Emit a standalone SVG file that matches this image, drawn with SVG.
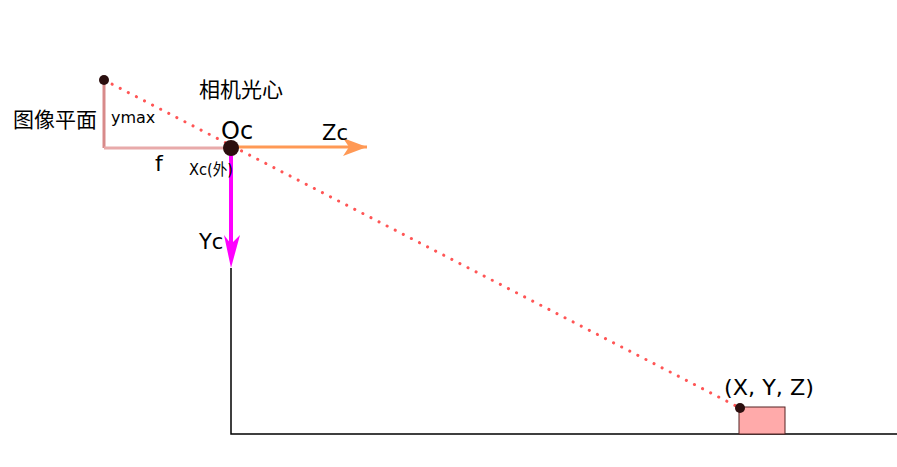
<svg xmlns="http://www.w3.org/2000/svg" width="897" height="467" viewBox="0 0 897 467">
<style>
text{font-family:"DejaVu Sans","Noto Sans CJK SC",sans-serif;fill:#000}
.dot{fill:#2b0f0f}
</style>
<defs>
<marker id="ao" markerWidth="24" markerHeight="18" refX="24" refY="9" orient="auto" markerUnits="userSpaceOnUse"><path d="M0,0 L24,9 L0,18 L6,9 Z" fill="#ff9955"/></marker>
</defs>
<rect width="897" height="467" fill="#fff"/>
<g id="connectors">
<polyline points="231,268 231,434 897,434" fill="none" stroke="#000" stroke-width="1.5"/>
<line x1="104" y1="80" x2="104" y2="148" stroke="#d88a8a" stroke-width="3"/>
<line x1="104" y1="148" x2="231" y2="148" stroke="#e8aaaa" stroke-width="3"/>
<line x1="231" y1="147" x2="367" y2="147" stroke="#ff9955" stroke-width="3" marker-end="url(#ao)"/>
<line x1="231" y1="148" x2="231" y2="250" stroke="#ff00ff" stroke-width="4"/>
<path d="M231,268 L224,235 L231,244 L240,235 Z" fill="#ff00ff"/>
<line x1="104" y1="80" x2="740" y2="408" stroke="#ff5555" stroke-width="3" stroke-dasharray="0.1 9" stroke-linecap="round"/>
</g>
<g id="image-plane-top"><circle class="dot" cx="104" cy="80" r="5"/></g>
<g id="oc"><circle class="dot" cx="231" cy="148" r="8"/><text x="221" y="139" font-size="24">Oc</text></g>
<g id="object">
<rect x="739" y="407" width="46" height="27" fill="#ffaaaa" stroke="#552222" stroke-width="1"/>
<circle class="dot" cx="740" cy="408" r="5"/>
<text x="724" y="395" font-size="21" textLength="90" lengthAdjust="spacingAndGlyphs">(X, Y, Z)</text>
</g>
<g id="labels">
<text x="199" y="97" font-size="21">相机光心</text>
<text x="13" y="127" font-size="21">图像平面</text>
<text x="111" y="123" font-size="16">ymax</text>
<text x="322" y="140" font-size="21">Zc</text>
<text x="155" y="171" font-size="22">f</text>
<text x="189" y="175" font-size="16" textLength="44" lengthAdjust="spacingAndGlyphs">Xc(外)</text>
<text x="199" y="249" font-size="21">Yc</text>
</g>
</svg>
